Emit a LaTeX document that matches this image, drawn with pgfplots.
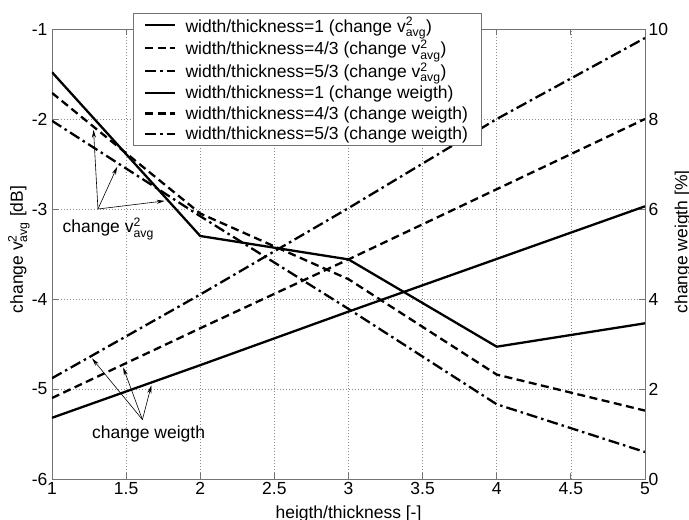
\documentclass[border=0pt]{standalone}
\usepackage{fontspec}
\setmainfont{Liberation Sans}
\usepackage{amsmath}
\usepackage{pgfplots}
\pgfplotsset{compat=1.18}
\usetikzlibrary{arrows.meta}
\newcommand{\vavg}{v$^{\text{2}}_{\text{avg}}$}
\newcommand{\bigf}{\fontsize{17.5}{21}\selectfont}
\pgfplotsset{
 mystyle/.style={scale only axis, width=593pt, height=450pt, xmin=1, xmax=5,
   axis line style={black!55, line width=0.8pt},
   tick style={black!55, line width=0.8pt},
   major tick length=6pt, tick align=inside,
   ticklabel style={font=\bigf},
   label style={font=\bigf},
 },
 ser/.style={black, line width=2.3pt},
 dsh/.style={black, line width=2.3pt, dash pattern=on 8pt off 4.5pt},
 dd/.style={black, line width=2.3pt, dash pattern=on 11pt off 4pt on 2.5pt off 4pt},
}
\begin{document}
\begin{tikzpicture}
\path[use as bounding box] (-52pt,-41pt) rectangle (637pt,479pt);
\begin{axis}[mystyle, name=ax,
  ymin=-6, ymax=-1,
  ytick={-6,-5,-4,-3,-2,-1}, yticklabels={-6,-5,-4,-3,-2,-1},
  xtick={1,1.5,2,2.5,3,3.5,4,4.5,5}, xticklabels={1,1.5,2,2.5,3,3.5,4,4.5,5},
  xtick pos=both, ytick pos=left,
  grid=major, grid style={black!45, dash pattern=on 1pt off 2pt, line width=0.6pt},
  ylabel={change \vavg{} [dB]},
  xlabel={heigth/thickness [-]},
  ylabel style={at={(axis description cs:-0.056,0.51)}, anchor=center},
  xlabel style={at={(axis description cs:0.5,0)}, anchor=north, yshift=-27pt, inner sep=0pt},
  yticklabel style={xshift=-1pt},
]
\addplot[ser] coordinates {(1,-1.48) (2,-3.30) (3,-3.56) (4,-4.53) (5,-4.27)};
\addplot[dsh] coordinates {(1,-1.71) (2,-3.05) (3,-3.78) (4,-4.84) (5,-5.24)};
\addplot[dd] coordinates {(1,-2.02) (2,-3.08) (3,-4.11) (4,-5.17) (5,-5.70)};
\draw[-{Stealth[length=8pt,width=4pt]}, line width=0.6pt] (axis cs:1.31,-3.0) -- (axis cs:1.28,-2.12);
\draw[-{Stealth[length=8pt,width=4pt]}, line width=0.6pt] (axis cs:1.31,-3.0) -- (axis cs:1.44,-2.53);
\draw[-{Stealth[length=8pt,width=4pt]}, line width=0.6pt] (axis cs:1.31,-3.0) -- (axis cs:1.76,-2.91);
\node[anchor=west, font=\bigf, inner sep=0pt] at (axis cs:1.07,-3.22) {change \vavg};
\draw[-{Stealth[length=8pt,width=4pt]}, line width=0.6pt] (axis cs:1.61,-5.34) -- (axis cs:1.27,-4.66);
\draw[-{Stealth[length=8pt,width=4pt]}, line width=0.6pt] (axis cs:1.61,-5.34) -- (axis cs:1.48,-4.76);
\draw[-{Stealth[length=8pt,width=4pt]}, line width=0.6pt] (axis cs:1.61,-5.34) -- (axis cs:1.67,-4.96);
\node[anchor=west, font=\bigf, inner sep=0pt] at (axis cs:1.27,-5.50) {change weigth};
\end{axis}
\begin{axis}[mystyle,
  ymin=0, ymax=10,
  ytick={0,2,4,6,8,10}, yticklabels={0,2,4,6,8,10},
  axis y line*=right, axis x line=none,
  ylabel={change weigth [\%]},
  ylabel style={at={(axis description cs:1.064,0.527)}, anchor=center},
  legend image code/.code={\draw[#1] (0pt,0pt) -- (30pt,0pt); \path (37pt,0pt);},
  legend style={at={(axis description cs:0.1366,1.0356)}, anchor=north west,
    draw=black!55, fill=white, font=\bigf, cells={anchor=west},
    inner xsep=11pt, inner ysep=2pt, row sep=2.5pt},
]
\addlegendimage{black, line width=2.3pt}
\addlegendentry{width/thickness=1 (change \vavg)}
\addlegendimage{black, line width=2.3pt, dash pattern=on 8pt off 4.5pt}
\addlegendentry{width/thickness=4/3 (change \vavg)}
\addlegendimage{black, line width=2.3pt, dash pattern=on 11pt off 4pt on 2.5pt off 4pt}
\addlegendentry{width/thickness=5/3 (change \vavg)}
\addplot[ser] coordinates {(1,1.36) (2,2.53) (3,3.72) (4,4.89) (5,6.06)};
\addlegendentry{width/thickness=1 (change weigth)}
\addplot[dsh] coordinates {(1,1.80) (2,3.35) (3,4.88) (4,6.44) (5,8.00)};
\addlegendentry{width/thickness=4/3 (change weigth)}
\addplot[dd] coordinates {(1,2.24) (2,4.10) (3,6.02) (4,8.00) (5,9.80)};
\addlegendentry{width/thickness=5/3 (change weigth)}
\end{axis}
\end{tikzpicture}
\end{document}
